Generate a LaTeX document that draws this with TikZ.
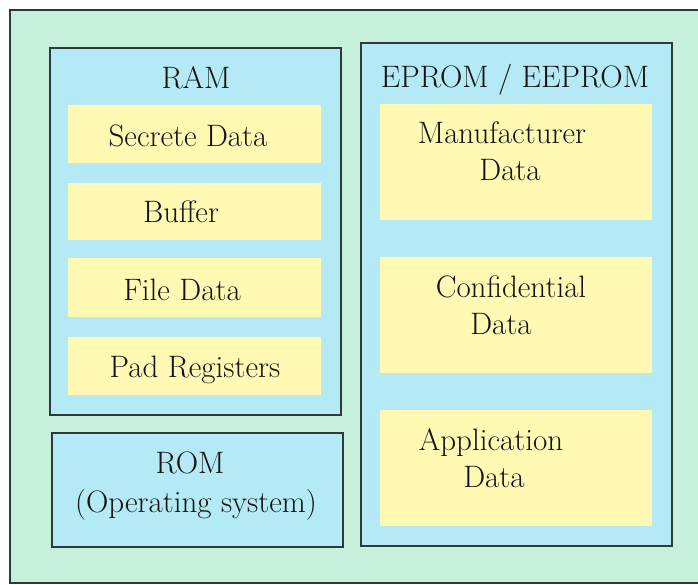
\documentclass[tikz,border=0pt]{standalone}
\definecolor{mint}{HTML}{C6EFDC}
\definecolor{memblue}{HTML}{B4EAF6}
\definecolor{cellyellow}{HTML}{FFF9B4}
\definecolor{framegray}{HTML}{2E3A38}
\definecolor{inkgray}{HTML}{141414}
\begin{document}
\begin{tikzpicture}[x=1pt,y=-1pt,
  region/.style={draw=framegray,line width=1.6pt,fill=memblue},
  cell/.style={fill=cellyellow},
  lbl/.style={anchor=base,inner sep=0pt,text=inkgray,
    font=\fontsize{31}{37}\selectfont},
]
\useasboundingbox (0,0) rectangle (698,585);
\fill[white] (0,0) rectangle (698,585);
% board
\path[fill=mint,draw=framegray,line width=1.4pt] (10,10) rectangle (702,583);
% memory regions
\path[region] (50,48) rectangle (341,415);
\path[region] (52,433) rectangle (343,547);
\path[region] (361,43) rectangle (672,546);
% RAM cells
\path[cell] (68,105) rectangle (321,163);
\path[cell] (68,183) rectangle (321,240);
\path[cell] (68,258) rectangle (321,317);
\path[cell] (68,337) rectangle (321,395);
% EPROM cells
\path[cell] (380,104) rectangle (652,220);
\path[cell] (380,257) rectangle (652,373);
\path[cell] (380,410) rectangle (652,526);
% labels
\node[lbl] (ram) at (196,89) {RAM};
\node[lbl] (secret) at (188,147) {Secrete Data};
\node[lbl] (buffer) at (181,223) {Buffer};
\node[lbl] (file) at (182,300) {File Data};
\node[lbl] (pad) at (195,377) {Pad Registers};
\node[lbl] (rom) at (190,473) {ROM};
\node[lbl] (os) at (196,512) {(Operating system)};
\node[lbl] (eprom) at (515,88) {EPROM / EEPROM};
\node[lbl] (manu) at (502,144) {Manufacturer};
\node[lbl] (manud) at (510,181) {Data};
\node[lbl] (conf) at (511,297) {Confidential};
\node[lbl] (confd) at (501,334) {Data};
\node[lbl] (app) at (491,450) {Application};
\node[lbl] (appd) at (494,487) {Data};
\end{tikzpicture}
\end{document}
